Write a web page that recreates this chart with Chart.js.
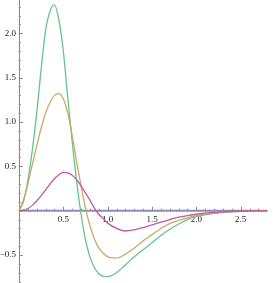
<!DOCTYPE html>
<html>
<head>
<meta charset="utf-8">
<script src="https://cdn.jsdelivr.net/npm/chart.js@4.4.0/dist/chart.umd.min.js"></script>
<style>
  html, body { margin: 0; padding: 0; background: #fff; }
  #wrap { width: 273px; height: 283px; }
</style>
</head>
<body>
<div id="wrap"><canvas id="plotChart"></canvas></div>
<script>
// Sample positions along x (shared by all three curves)
const xValues = [0, 0.05, 0.1, 0.15, 0.2, 0.25, 0.3, 0.35, 0.4, 0.45, 0.5, 0.55, 0.6, 0.65, 0.7, 0.75,
  0.8, 0.85, 0.9, 0.95, 1.0, 1.1, 1.2, 1.3, 1.4, 1.5, 1.6, 1.7, 1.8, 1.9, 2.0, 2.2, 2.4, 2.6, 2.8];

// Curve values
const greenValues = [0, 0.1, 0.34, 0.68, 1.1, 1.6, 2.03, 2.25, 2.32, 2.15, 1.8, 1.27, 0.78, 0.33, -0.04, -0.33,
  -0.52, -0.64, -0.71, -0.74, -0.744, -0.7, -0.61, -0.52, -0.44, -0.36, -0.28, -0.21, -0.15, -0.1, -0.068,
  -0.03, -0.012, -0.004, -0.001];
const tanValues = [0, 0.12, 0.3, 0.52, 0.73, 0.93, 1.1, 1.22, 1.3, 1.32, 1.26, 1.1, 0.85, 0.55, 0.28, 0.03,
  -0.17, -0.32, -0.42, -0.48, -0.52, -0.535, -0.49, -0.42, -0.34, -0.27, -0.2, -0.145, -0.11, -0.08, -0.055,
  -0.025, -0.01, -0.004, -0.001];
const pinkValues = [0, 0.005, 0.025, 0.06, 0.11, 0.17, 0.235, 0.3, 0.36, 0.405, 0.432, 0.425, 0.4, 0.35, 0.28, 0.2,
  0.12, 0.03, -0.04, -0.09, -0.14, -0.2, -0.229, -0.215, -0.19, -0.16, -0.13, -0.1, -0.073, -0.055, -0.04,
  -0.02, -0.008, -0.003, -0.001];

// Axis ticks
const xTicks = [0.5, 1.0, 1.5, 2.0, 2.5];
const yTicks = [-0.5, 0.5, 1.0, 1.5, 2.0];

const toPoints = ys => xValues.map((x, i) => ({ x: x, y: ys[i] }));
const fmt = v => (v < 0 ? '\u2212' : '') + Math.abs(v).toFixed(1);

// Mathematica-style axes crossing at the origin
const originAxes = {
    id: 'originAxes',
    beforeDatasetsDraw(chart) {
        const ctx = chart.ctx;
        const xs = chart.scales.x, ys = chart.scales.y;
        const x0 = xs.getPixelForValue(0), y0 = ys.getPixelForValue(0);
        ctx.save();

        // y axis
        ctx.strokeStyle = '#8a8a8a';
        ctx.lineWidth = 1;
        ctx.beginPath();
        ctx.moveTo(Math.round(x0) + 0.5, chart.chartArea.top);
        ctx.lineTo(Math.round(x0) + 0.5, chart.chartArea.bottom);
        ctx.stroke();
        for (let k = -8; k <= 23; k++) {
            if (k === 0) continue;
            const py = Math.round(ys.getPixelForValue(k / 10)) + 0.5;
            const len = (k % 5 === 0) ? 4 : 2;
            ctx.beginPath();
            ctx.moveTo(x0, py);
            ctx.lineTo(x0 + len, py);
            ctx.stroke();
        }

        // x axis ticks
        for (let k = 1; k <= 27; k++) {
            const px = Math.round(xs.getPixelForValue(k / 10)) + 0.5;
            const len = (k % 5 === 0) ? 4 : 2;
            ctx.beginPath();
            ctx.moveTo(px, y0);
            ctx.lineTo(px, y0 - len);
            ctx.stroke();
        }

        // x axis
        ctx.strokeStyle = '#8c8cb4';
        ctx.lineWidth = 2;
        ctx.beginPath();
        ctx.moveTo(x0, y0);
        ctx.lineTo(xs.getPixelForValue(2.8), y0);
        ctx.stroke();

        // labels
        ctx.fillStyle = '#222';
        ctx.font = '9px "Liberation Serif", serif';
        ctx.textAlign = 'center';
        ctx.textBaseline = 'top';
        xTicks.forEach(v => ctx.fillText(fmt(v), xs.getPixelForValue(v), y0 + 4));
        ctx.textAlign = 'right';
        ctx.textBaseline = 'middle';
        yTicks.forEach(v => ctx.fillText(fmt(v), x0 - 3, ys.getPixelForValue(v)));
        ctx.restore();
    }
};

const plotCtx = document.getElementById('plotChart').getContext('2d');
const plotChart = new Chart(plotCtx, {
    type: 'scatter',
    data: {
        datasets: [
            { data: toPoints(pinkValues), borderColor: '#c25a9c' },
            { data: toPoints(tanValues), borderColor: '#c8aa68' },
            { data: toPoints(greenValues), borderColor: '#66c487' }
        ].map(d => Object.assign(d, {
            showLine: true,
            pointRadius: 0,
            borderWidth: 1.3,
            cubicInterpolationMode: 'monotone',
            fill: false
        }))
    },
    options: {
        responsive: true,
        maintainAspectRatio: false,
        animation: false,
        layout: { padding: 0 },
        plugins: { legend: { display: false }, tooltip: { enabled: false } },
        scales: {
            x: { type: 'linear', display: false, min: -0.214, max: 2.864 },
            y: { type: 'linear', display: false, min: -0.815, max: 2.375 }
        }
    },
    plugins: [originAxes]
});
</script>
</body>
</html>
